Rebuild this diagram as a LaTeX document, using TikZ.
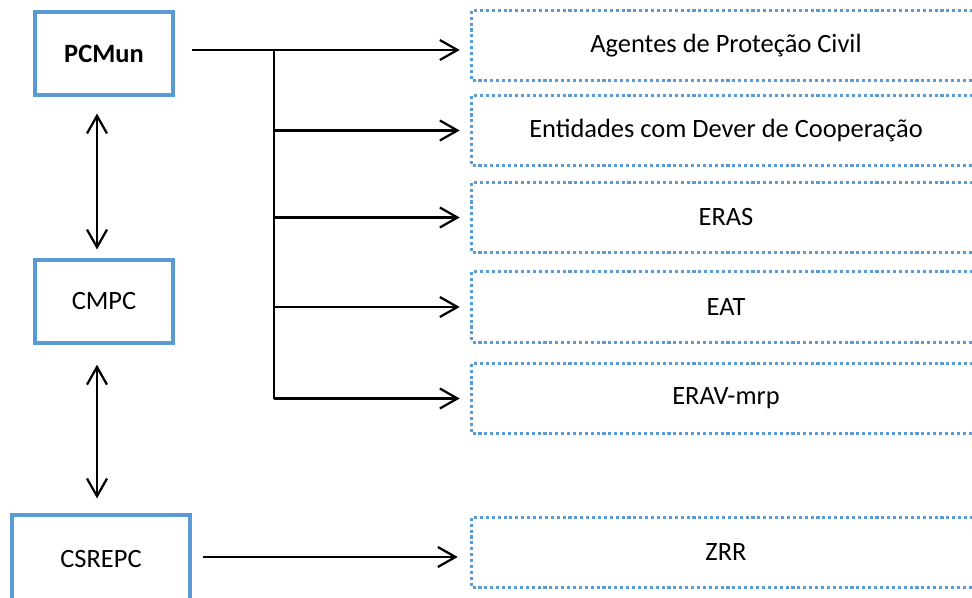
\documentclass[tikz,border=0pt]{standalone}
\usepackage{fontspec}
\setmainfont{Carlito}
\usetikzlibrary{arrows.meta,positioning,calc}
\definecolor{boxblue}{RGB}{91,155,213}

\begin{document}
\begin{tikzpicture}[
    box/.style={draw=boxblue, line width=2.5pt, minimum width=3.45cm, minimum height=2.075cm, align=center, font=\fontsize{18.8}{22}\selectfont},
    dotbox/.style={minimum width=12.7cm, minimum height=1.75cm, align=center, font=\fontsize{18.8}{22}\selectfont},
    dotline/.style={draw=boxblue, line width=2.3pt, dash pattern=on 2.2pt off 2pt},
    arr/.style={-{Straight Barb[length=4.4mm, width=5mm]}, line width=1.6pt},
    darr/.style={{Straight Barb[length=4.4mm, width=5mm]}-{Straight Barb[length=4.4mm, width=5mm]}, line width=1.6pt}]
  \useasboundingbox (0,0) rectangle (24.3,-14.95);
  \clip (0,0) rectangle (24.3,-14.95);
  % Left column
  \node[box] (pcmun) at (2.6,-1.3375) {\textbf{PCMun}};
  \node[box] (cmpc) at (2.6,-7.5375) {CMPC};
  \node[box, minimum width=4.45cm, minimum height=2.2cm] (csrepc) at (2.525,-13.975) {CSREPC};
  % Right column
  \node[dotbox] (agentes) at (18.15,-1.1375) {Agentes de Proteção Civil};
  \node[dotbox] (entidades) at (18.15,-3.2625) {Entidades com Dever de Cooperação};
  \node[dotbox] (eras) at (18.15,-5.4375) {ERAS};
  \node[dotbox] (eat) at (18.15,-7.675) {EAT};
  \node[dotbox] (erav) at (18.15,-9.9625) {ERAV-mrp};
  \node[dotbox] (zrr) at (18.15,-13.8125) {ZRR};
  % dotted frames, open where they run off the page
  \draw[dotline] ([xshift=1cm]agentes.north east) -- (agentes.north west) -- (agentes.south west) -- ([xshift=1cm]agentes.south east);
  \draw[dotline] ([xshift=1cm]entidades.north east) -- (entidades.north west) -- (entidades.south west) -- ([xshift=1cm]entidades.south east);
  \draw[dotline] ([xshift=1cm]eras.north east) -- (eras.north west) -- (eras.south west) -- ([xshift=1cm]eras.south east);
  \draw[dotline] ([xshift=1cm]eat.north east) -- (eat.north west) -- (eat.south west) -- ([xshift=1cm]eat.south east);
  \draw[dotline] ([xshift=1cm]erav.north east) -- (erav.north west) -- (erav.south west) -- ([xshift=1cm]erav.south east);
  \draw[dotline] ([xshift=1cm]zrr.north east) -- (zrr.north west) -- (zrr.south west) -- ([xshift=1cm]zrr.south east);

  \coordinate (trunk) at (6.85,-1.25);
  % PCMun to the entities
  \draw[arr, shorten <=0.42cm, shorten >=0.3cm] (pcmun.east |- trunk) -- (agentes.west |- trunk);
  \draw[line width=1.6pt] (trunk) -- (trunk |- erav.west);
  \draw[arr, shorten >=0.3cm] (trunk |- entidades.west) -- (entidades.west);
  \draw[arr, shorten >=0.3cm] (trunk |- eras.west) -- (eras.west);
  \draw[arr, shorten >=0.3cm] (trunk |- eat.west) -- (eat.west);
  \draw[arr, shorten >=0.3cm] (trunk |- erav.west) -- (erav.west);
  % Vertical links
  \draw[darr, shorten <=0.42cm, shorten >=0.22cm] ([xshift=-0.175cm]pcmun.south) -- ([xshift=-0.175cm]cmpc.north);
  \draw[darr, shorten <=0.5cm, shorten >=0.37cm] ([xshift=-0.175cm]cmpc.south) -- ([xshift=-0.175cm]cmpc.south |- csrepc.north);
  % CSREPC to ZRR
  \draw[arr, shorten <=0.27cm, shorten >=0.35cm] ([yshift=0.05cm]csrepc.east) -- ([yshift=0.05cm]csrepc.east -| zrr.west);
\end{tikzpicture}
\end{document}
